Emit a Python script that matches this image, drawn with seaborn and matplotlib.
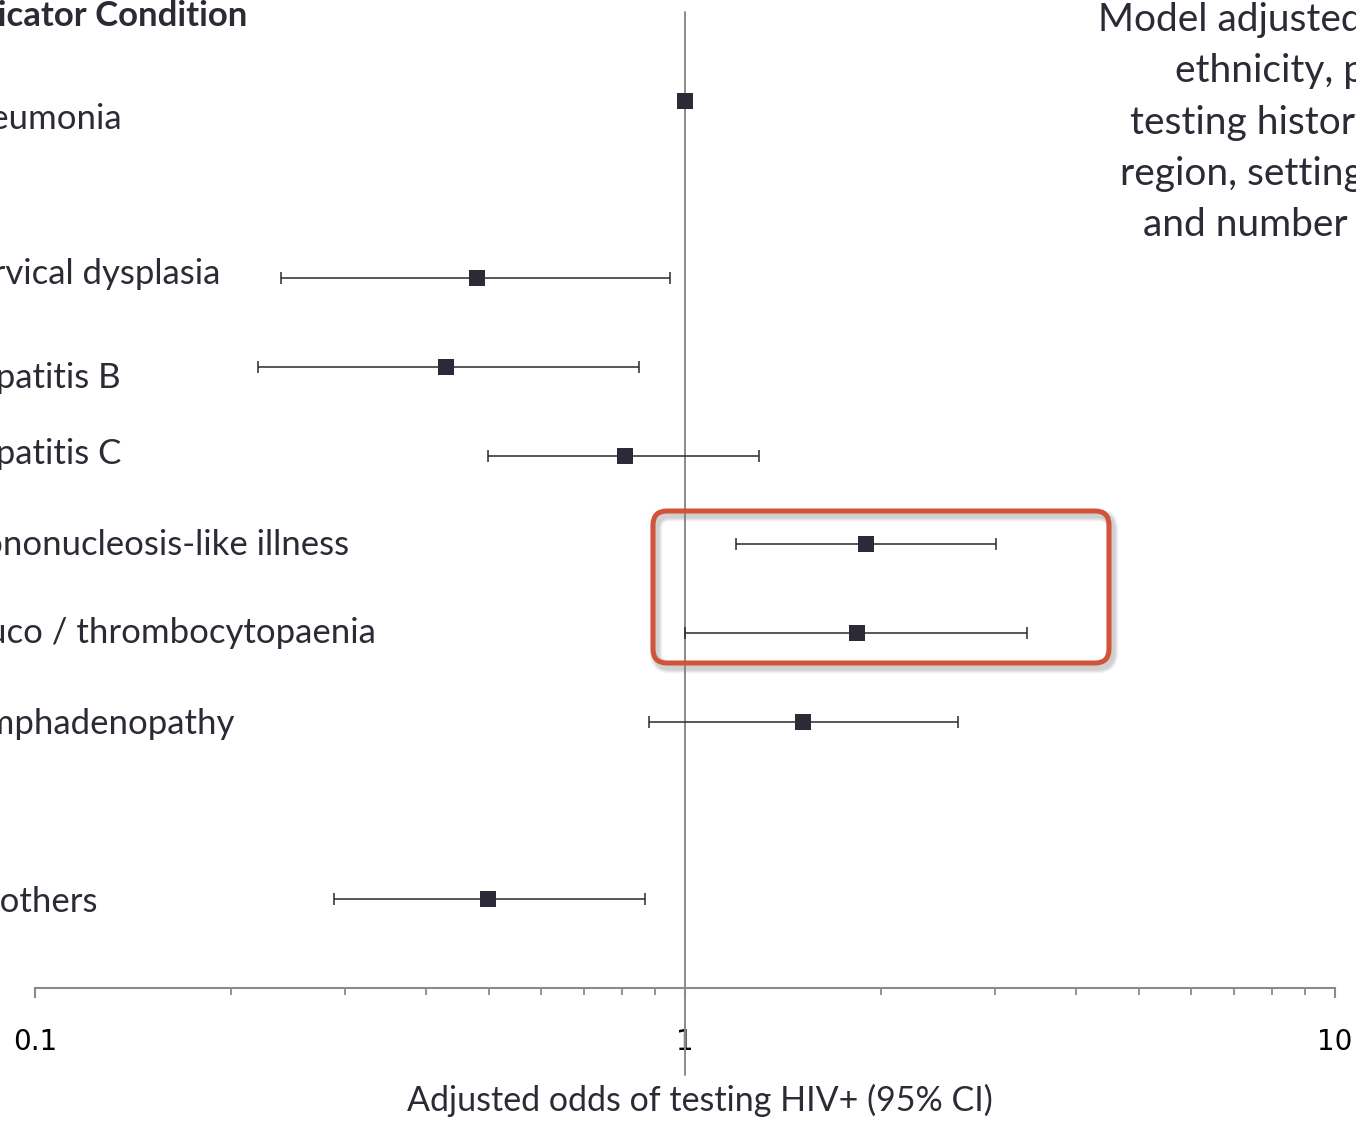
import numpy as np
import pandas as pd
import seaborn as sns
import matplotlib.pyplot as plt
from matplotlib import transforms
from matplotlib.patches import FancyBboxPatch
from matplotlib.ticker import LogLocator, NullFormatter, FixedFormatter, FixedLocator

# rows of the forest plot, blank strings are spacer rows
conditions = ["Pneumonia", "", "Cervical dysplasia", "Hepatitis B", "Hepatitis C",
              "Mononucleosis-like illness", "Leuco / thrombocytopaenia",
              "Lymphadenopathy", "", "All others"]
odds = [1.0, np.nan, 0.479, 0.429, 0.809, 1.90, 1.84, 1.52, np.nan, 0.498]
ci_low = [np.nan, np.nan, 0.239, 0.220, 0.498, 1.198, 1.0, 0.880, np.nan, 0.288]
ci_high = [np.nan, np.nan, 0.948, 0.850, 1.30, 3.01, 3.36, 2.63, np.nan, 0.868]
tick_values = [0.1, 1, 10]
tick_labels = ["0.1", "1", "10"]
note_lines = ["Model adjusted for age, gender,",
              "ethnicity, previous HIV",
              "testing history, country,",
              "region, setting",
              "and number of conditions"]

df = pd.DataFrame({"condition": conditions, "odds": odds, "lo": ci_low, "hi": ci_high})
df["row"] = np.arange(len(df))

sns.set_theme(style="white")
plt.rcParams['font.family'] = ['Lato', 'DejaVu Sans']
text_col = "#2b2b36"
grey = "#8a8a8a"

W, H = 1356, 1121
fig = plt.figure(figsize=(W / 100, H / 100), dpi=100)
ax = fig.add_axes([35 / W, 133 / H, 1300 / W, 976 / H])

ci = df.dropna(subset=["lo", "hi"])
ax.errorbar(ci["odds"], ci["row"], xerr=[ci["odds"] - ci["lo"], ci["hi"] - ci["odds"]],
            fmt="none", ecolor="#2a2a2a", elinewidth=1.1, capsize=4, capthick=1.1, zorder=2)
sns.scatterplot(data=df.dropna(subset=["odds"]), x="odds", y="row", marker="s", s=120,
                color="#2b2a36", edgecolor="#2b2a36", linewidth=0, ax=ax, zorder=3)

ax.set_xscale("log")
ax.set_xlim(0.1, 10)
ax.set_ylim(10, -1)
ax.set_yticks([])
ax.set_ylabel("")
ax.axvline(1, ymin=-0.089, ymax=1, color=grey, lw=1.4, clip_on=False, zorder=1)

for side in ["top", "left", "right"]:
    ax.spines[side].set_visible(False)
ax.spines["bottom"].set_color(grey)
ax.spines["bottom"].set_linewidth(1.5)

ax.xaxis.set_major_locator(FixedLocator(tick_values))
ax.xaxis.set_major_formatter(FixedFormatter(tick_labels))
ax.xaxis.set_minor_locator(LogLocator(base=10, subs=np.arange(2, 10)))
ax.xaxis.set_minor_formatter(NullFormatter())
ax.tick_params(axis="x", which="major", bottom=True, direction="out", length=7.5, width=1.5,
               color=grey, pad=21, labelsize=20, labelcolor="black")
ax.tick_params(axis="x", which="minor", bottom=True, direction="out", length=5, width=1.3, color=grey)
for lab in ax.get_xticklabels():
    lab.set_fontfamily("DejaVu Sans")

ax.set_xlabel("Adjusted odds of testing HIV+ (95% CI)", fontsize=24.5, color=text_col, va="center")
ax.xaxis.set_label_coords(0.5115, -0.1148)

# condition labels, cut by the left edge of the slide
lab_tr = transforms.blended_transform_factory(fig.transFigure, ax.transData)
label_shift = [0.21, 0, -0.05, 0.13, -0.02, 0.01, 0, 0.02, 0, 0.03]
for r, name, dy in zip(df["row"], df["condition"], label_shift):
    if name:
        ax.text(-49 / W, r + dy, name, transform=lab_tr, ha="left", va="center",
                fontsize=25, color=text_col, clip_on=False)
fig.text(-52 / W, 1 - 16 / H, "Indicator Condition", ha="left", va="center",
         fontsize=25, fontweight="bold", color=text_col)

# model note, cut by the right edge
note_x = [1098, 1175, 1130, 1120, 1143]
for i, (line, x0) in enumerate(zip(note_lines, note_x)):
    fig.text(x0 / W, 1 - (20 + 51.3 * i) / H, line, ha="left", va="center",
             fontsize=28, color=text_col)

# highlight box with soft shadow
px = transforms.IdentityTransform()
for k, a in [(6, 0.10), (4, 0.15), (2, 0.2)]:
    fig.patches.append(FancyBboxPatch((653 + 3, H - 663 - 4), 456, 152,
                                      boxstyle="round,pad=0,rounding_size=14",
                                      fill=False, ec="#888888", lw=3 + k, alpha=a, transform=px))
fig.patches.append(FancyBboxPatch((653, H - 663), 456, 152, boxstyle="round,pad=0,rounding_size=14",
                                  fill=False, ec="#d1543a", lw=3.6, transform=px))

fig.savefig("out.png", dpi=100)
